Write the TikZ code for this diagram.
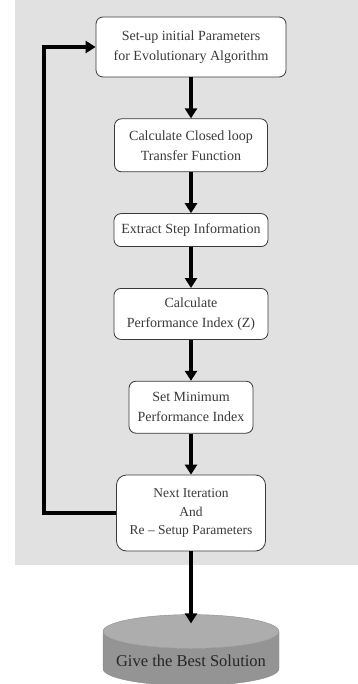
\documentclass[tikz,border=0pt]{standalone}
\usepackage{fontspec}
\setmainfont{Liberation Serif}
\usetikzlibrary{arrows.meta,positioning,shapes.geometric}
\definecolor{panel}{HTML}{E1E1E1}
\definecolor{ink}{HTML}{3A3A3A}
\tikzset{
    %Define standard arrow tip
    >={Triangle[width=12pt,length=10pt]},
    %Define style for boxes
    process/.style={
           rectangle,
           rounded corners=7pt,
           draw=ink, thick,
           fill=white,
           text=ink,
           align=center,
           inner sep=2pt,
           font=\fontsize{14}{20}\selectfont},
    store/.style={
           cylinder,
           shape border rotate=90,
           aspect=0.22,
           draw=black!45,
           cylinder uses custom fill,
           cylinder body fill=black!42,
           cylinder end fill=black!32,
           text=black!85,
           inner xsep=2pt,
           font=\fontsize{16.5}{19}\selectfont},
    % Define arrow style
    pil/.style={
           ->,
           line width=3.5pt}
}

\begin{document}
\begin{tikzpicture}[x=1pt,y=-1pt,node distance=41pt]
\useasboundingbox (0,0) rectangle (358,684);
\fill[panel] (15,0) rectangle (358,565);

 %nodes

\node[process, minimum width=190pt, minimum height=60pt] (setup) at (191,47)
    {Set-up initial Parameters\\for Evolutionary Algorithm};
\node[process, minimum width=153pt, minimum height=53pt, below=of setup] (closed)
    {Calculate Closed loop\\Transfer Function};
\node[process, minimum width=154pt, minimum height=33pt, below=of closed] (extract)
    {Extract Step Information};
\node[process, minimum width=154pt, minimum height=51pt, below=of extract] (perf)
    {Calculate\\Performance Index (Z)};
\node[process, minimum width=124pt, minimum height=52pt, below=of perf] (minimum)
    {Set Minimum\\Performance Index};
\node[process, rounded corners=10pt, minimum width=149pt, minimum height=76pt,
    font=\fontsize{13.5}{18.5}\selectfont, below=of minimum] (next)
    {Next Iteration\\And\\Re -- Setup Parameters};
\node[store, minimum width=176pt, minimum height=71pt, below=63pt of next] (best)
    {Give the Best Solution};

\draw[pil] (setup) -- (closed);
\draw[pil] (closed) -- (extract);
\draw[pil] (extract) -- (perf);
\draw[pil] (perf) -- (minimum);
\draw[pil] (minimum) -- (next);
\draw[pil] (next) -- ([yshift=-9pt]best.north);
\draw[pil] (next.west) -- ++(-72,0) |- (setup.west);

\end{tikzpicture}
\end{document}
